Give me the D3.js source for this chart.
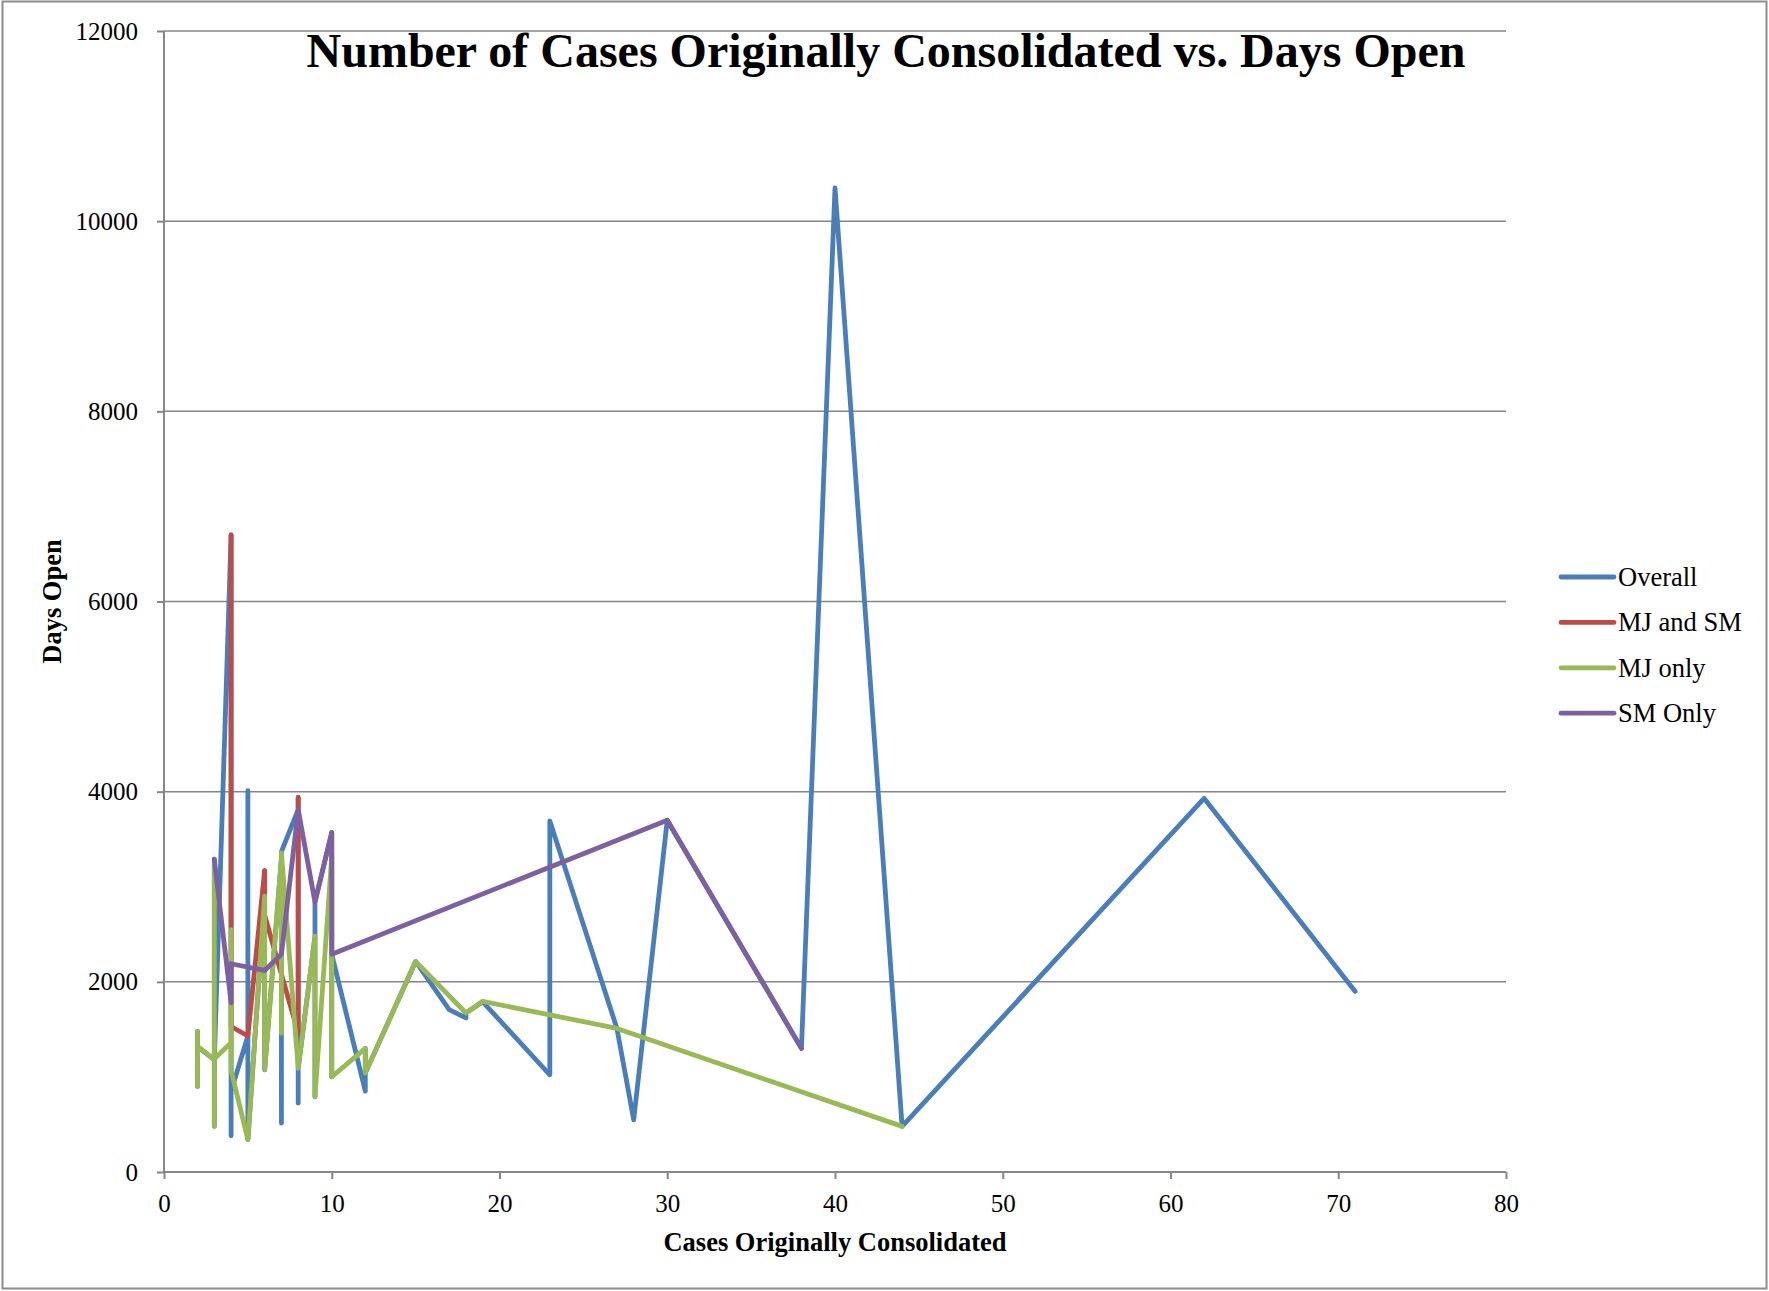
<!DOCTYPE html>
<html>
<head>
<meta charset="utf-8">
<script src="https://cdn.jsdelivr.net/npm/d3@7"></script>
<style>
  html, body { margin: 0; padding: 0; background: #fff; }
  svg { display: block; }
</style>
</head>
<body>
<svg id="chart" width="1769" height="1291"></svg>
<script>
// ---- data (x = cases originally consolidated, y = days open) ----
const seriesNames = ["Overall", "MJ and SM", "MJ only", "SM Only"];
const seriesColors = ["#4A7EBB", "#BE4B48", "#98B954", "#7D60A0"];

const overall = [
  [2,1480],[2,900],[2,1320],
  [3,1180],[3,3240],[3,3290],[3,480],[3,1180],
  [4,6700],[4,1530],[4,2550],[4,2190],[4,1780],[4,1360],[4,1070],[4,380],[4,850],
  [5,1430],[5,4010],[5,340],
  [6,2900],[6,3170],[6,2700],[6,2120],[6,1075],
  [7,3300],[7,1460],[7,513],[7,2290],[7,3370],
  [8,3810],[8,3940],[8,1460],[8,724],[8,1090],
  [9,2480],[9,790],[9,2840],
  [10,3570],[10,3320],[10,1000],[10,2290],
  [12,850],[12,1300],[12,1040],
  [15,2215],[17,1707],[18,1620],[18,1672],[19,1790],
  [23,1022],[23,3692],[27,1510],[28,548],[30,3700],
  [38,1300],[40,10350],[44,480],[62,3930],[71,1900]
];
const mjAndSm = [
  [4,6700],[4,1530],[5,1430],[6,3170],[6,2700],[8,1460],[8,3940]
];
const mjOnly = [
  [2,1480],[2,900],[2,1320],
  [3,1180],[3,3240],[3,480],[3,1190],
  [4,1360],[4,2550],[4,1070],
  [5,340],[6,2900],[6,1075],
  [7,3300],[7,1460],[7,3356],
  [8,1090],[9,2480],[9,790],[10,3320],[10,1000],
  [12,1300],[12,1040],[15,2215],[18,1672],[19,1795],[27,1510],[44,480]
];
const smOnly = [
  [3,3290],[4,1780],[4,2190],[6,2120],[7,2290],[8,3810],[9,2840],
  [10,3570],[10,2290],[30,3700],[38,1300]
];
const allSeries = [overall, mjAndSm, mjOnly, smOnly];

const xTicks = [0,10,20,30,40,50,60,70,80];
const yTicks = [0,2000,4000,6000,8000,10000,12000];

const titleText = "Number of Cases Originally Consolidated vs. Days Open";
const xTitle = "Cases Originally Consolidated";
const yTitle = "Days Open";

// ---- layout ----
const W = 1769, H = 1291;
const plot = { left: 164, right: 1506, top: 31, bottom: 1172 };
const axisColor = "#868686";
const serif = "'Liberation Serif', 'Times New Roman', Times, serif";

const svg = d3.select("#chart");

svg.append("rect").attr("x", 0).attr("y", 0).attr("width", W).attr("height", H).attr("fill", "#fff");
svg.append("rect")
  .attr("x", 2.5).attr("y", 1.5).attr("width", W - 5).attr("height", H - 4)
  .attr("fill", "none").attr("stroke", "#8c8c8c").attr("stroke-width", 2);

const x = d3.scaleLinear().domain([0, 80]).range([plot.left, plot.right]);
const y = d3.scaleLinear().domain([0, 12000]).range([plot.bottom, plot.top]);

// gridlines
svg.append("g")
  .selectAll("line")
  .data(yTicks.filter(d => d > 0))
  .join("line")
  .attr("x1", plot.left).attr("x2", plot.right)
  .attr("y1", d => y(d)).attr("y2", d => y(d))
  .attr("stroke", axisColor).attr("stroke-width", 1.5);

// axes
const yAxis = svg.append("g")
  .attr("transform", `translate(${plot.left},0)`)
  .call(d3.axisLeft(y).tickValues(yTicks).tickSize(7).tickPadding(19).tickFormat(d3.format("d")));
const xAxis = svg.append("g")
  .attr("transform", `translate(0,${plot.bottom})`)
  .call(d3.axisBottom(x).tickValues(xTicks).tickSize(7).tickPadding(15).tickFormat(d3.format("d")));

[yAxis, xAxis].forEach(g => {
  g.selectAll("path.domain").attr("stroke", axisColor).attr("stroke-width", 2);
  g.selectAll(".tick line").attr("stroke", axisColor).attr("stroke-width", 2);
  g.selectAll(".tick text")
    .attr("fill", "#000")
    .style("font-family", serif)
    .style("font-size", "25px");
});
yAxis.select("path.domain").attr("d", `M0,${plot.top}V${plot.bottom}`);
xAxis.select("path.domain").attr("d", `M${plot.left},0H${plot.right}`);

// series lines
const line = d3.line().x(d => x(d[0])).y(d => y(d[1]));
svg.append("g")
  .selectAll("path")
  .data(allSeries)
  .join("path")
  .attr("d", d => line(d))
  .attr("fill", "none")
  .attr("stroke", (d, i) => seriesColors[i])
  .attr("stroke-width", 4.8)
  .attr("stroke-linejoin", "round")
  .attr("stroke-linecap", "round");

// title
const title = svg.append("text")
  .attr("x", 886).attr("y", 67)
  .attr("text-anchor", "middle")
  .style("font-family", serif)
  .style("font-weight", "bold")
  .style("font-size", "40px")
  .attr("fill", "#000")
  .text(titleText);
const tw = title.node().getComputedTextLength();
title.style("font-size", (40 * 1159 / tw).toFixed(2) + "px");

// axis titles
svg.append("text")
  .attr("x", (plot.left + plot.right) / 2).attr("y", 1251)
  .attr("text-anchor", "middle")
  .style("font-family", serif).style("font-weight", "bold").style("font-size", "26.5px")
  .attr("fill", "#000")
  .text(xTitle);

svg.append("text")
  .attr("transform", `translate(61,${(plot.top + plot.bottom) / 2}) rotate(-90)`)
  .attr("text-anchor", "middle")
  .style("font-family", serif).style("font-weight", "bold").style("font-size", "26.5px")
  .attr("fill", "#000")
  .text(yTitle);

// legend
const legend = svg.append("g").attr("transform", "translate(1561,577)");
const rowH = 45.4;
const items = legend.selectAll("g").data(seriesNames).join("g")
  .attr("transform", (d, i) => `translate(0,${i * rowH})`);
items.append("line")
  .attr("x1", 0).attr("x2", 53).attr("y1", 0).attr("y2", 0)
  .attr("stroke", (d, i) => seriesColors[i])
  .attr("stroke-width", 4.8).attr("stroke-linecap", "round");
items.append("text")
  .attr("x", 57).attr("y", 9)
  .style("font-family", serif).style("font-size", "26.5px")
  .attr("fill", "#000")
  .text(d => d);
</script>
</body>
</html>
